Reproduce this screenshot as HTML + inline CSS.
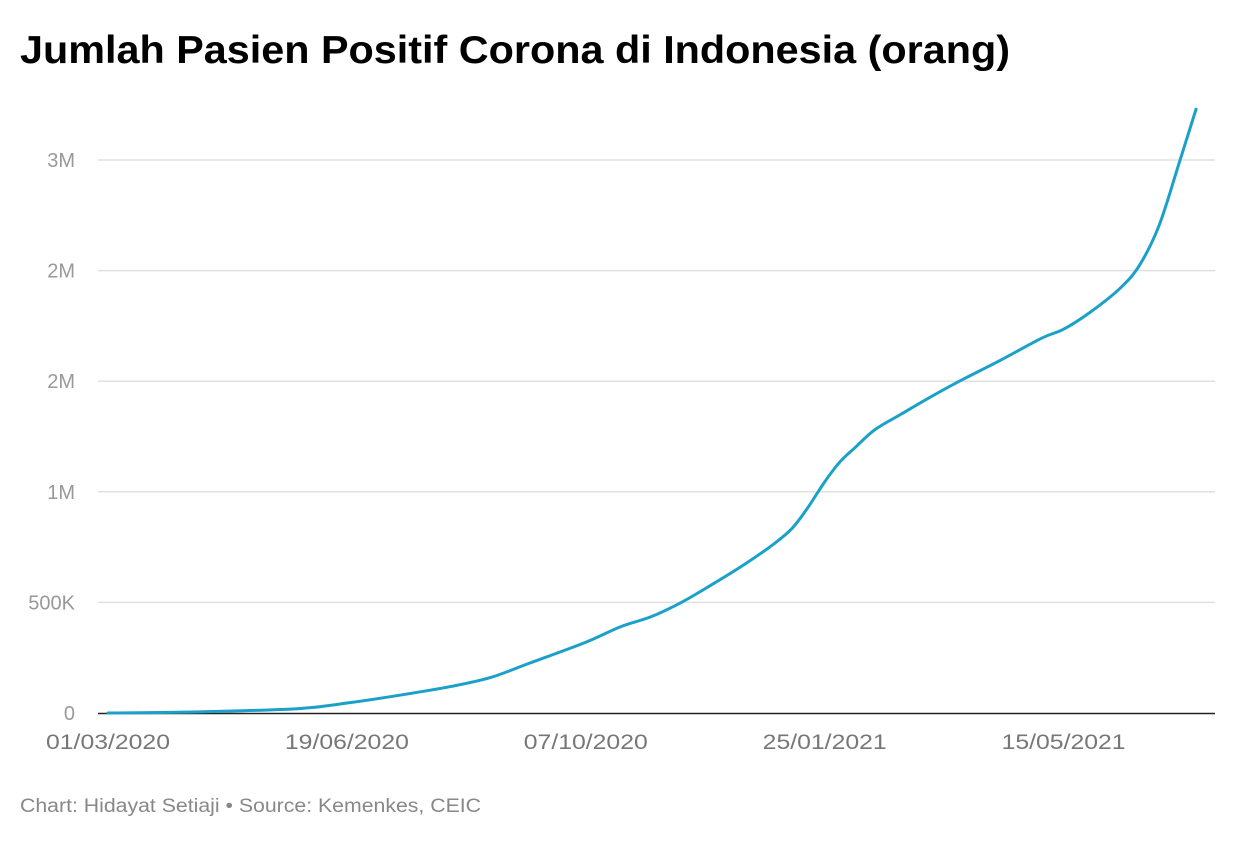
<!DOCTYPE html>
<html><head><meta charset="utf-8"><style>
body{margin:0;background:#fff;font-family:"Liberation Sans",sans-serif}
</style></head><body>
<svg id="chart" width="1240" height="840" xmlns="http://www.w3.org/2000/svg">
<text x="20" y="63" font-size="39" font-weight="bold" fill="#000" textLength="990" lengthAdjust="spacingAndGlyphs" font-family="Liberation Sans, sans-serif">Jumlah Pasien Positif Corona di Indonesia (orang)</text>
<g id="grid"></g><g id="yticks"></g><g id="xticks"></g><g id="series"></g>
<text x="20" y="812" font-size="19" fill="#888" textLength="461" lengthAdjust="spacingAndGlyphs" font-family="Liberation Sans, sans-serif">Chart: Hidayat Setiaji • Source: Kemenkes, CEIC</text>
</svg>
<script>
const days=[0,42,88,110,134,158,176,194,220,236,250,264,278,292,306,315,322,330,337,344,353,365,379,393,411,430,440,452,466,475,484,493,501];
const cases=[0,5000,20000,45000,80000,120000,160000,225000,320000,390000,435000,500000,580000,665000,760000,835000,925000,1045000,1135000,1200000,1280000,1350000,1430000,1505000,1595000,1695000,1735000,1810000,1920000,2025000,2205000,2480000,2730000];
const yTickVals=[0,500000,1000000,1500000,2000000,2500000];
const yTickLabels=["0","500K","1M","2M","2M","3M"];
const xTickDays=[0,110,220,330,440];
const xTickLabels=["01/03/2020","19/06/2020","07/10/2020","25/01/2021","15/05/2021"];
const NS="http://www.w3.org/2000/svg";
const x=d=>108+d*2.1718;
const y=v=>713-v*(110.6/500000);
function mk(t,a,p){const e=document.createElementNS(NS,t);for(const k in a)e.setAttribute(k,a[k]);p.appendChild(e);return e;}
const grid=document.getElementById('grid'),yt=document.getElementById('yticks'),xt=document.getElementById('xticks'),se=document.getElementById('series');
yTickVals.forEach((v,i)=>{
 if(v>0){const l=mk('line',{x1:98,x2:1215,y1:y(v),y2:y(v),stroke:'#e0e0e0','stroke-width':1.5},grid);
 
 }
 const t=mk('text',{x:75,y:y(v)+7,'text-anchor':'end','font-size':20,fill:'#999','font-family':'Liberation Sans, sans-serif'},yt);
 t.textContent=yTickLabels[i];
 
 
});
const ax=mk('line',{x1:98,x2:1215,y1:713.5,y2:713.5,stroke:'#222','stroke-width':1.5},grid);


xTickDays.forEach((d,i)=>{
 const t=mk('text',{x:x(d),y:749,'text-anchor':'middle','font-size':21,fill:'#777',textLength:124,lengthAdjust:'spacingAndGlyphs','font-family':'Liberation Sans, sans-serif'},xt);
 t.textContent=xTickLabels[i];
 
 
});
const pts=days.map((d,i)=>[x(d),y(cases[i])]);
let dstr='M'+pts[0][0]+','+pts[0][1];
for(let i=0;i<pts.length-1;i++){
 const p0=pts[Math.max(0,i-1)],p1=pts[i],p2=pts[i+1],p3=pts[Math.min(pts.length-1,i+2)];
 const c1=[p1[0]+(p2[0]-p0[0])/6,p1[1]+(p2[1]-p0[1])/6],c2=[p2[0]-(p3[0]-p1[0])/6,p2[1]-(p3[1]-p1[1])/6];
 dstr+=' C'+c1+' '+c2+' '+p2;
}
const path=mk('path',{d:dstr,fill:'none',stroke:'#1ba1c9','stroke-width':3,'stroke-linejoin':'round','stroke-linecap':'round'},se);


</script>
</body></html>
